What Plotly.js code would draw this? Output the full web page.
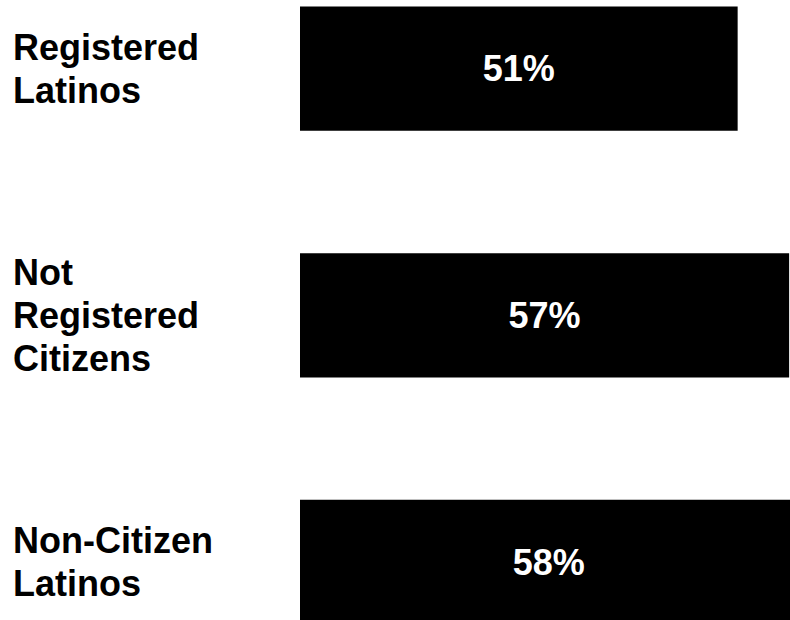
<!DOCTYPE html>
<html>
<head>
<meta charset="utf-8">
<script src="https://cdn.plot.ly/plotly-3.0.1.min.js"></script>
<style>html,body{margin:0;padding:0;background:#fff;}#chart{width:790px;height:620px;}</style>
</head>
<body>
<div id="chart"></div>
<script>
const categories = ['Registered Latinos', 'Not Registered Citizens', 'Non-Citizen Latinos'];
const categoryLabels = ['Registered<br>Latinos', 'Not<br>Registered<br>Citizens', 'Non-Citizen<br>Latinos'];
const values = [51, 57, 58];
const valueLabels = ['51%', '57%', '58%'];

const FONT = '"Liberation Sans", Arial, sans-serif';
const LABEL_SIZE = 36;
const LINE_GAP = 43;

const trace = {
  type: 'bar',
  orientation: 'h',
  y: categories,
  x: values,
  text: valueLabels,
  textposition: 'inside',
  insidetextanchor: 'middle',
  textangle: 0,
  textfont: {family: FONT, size: 36, color: '#ffffff', weight: 'bold'},
  marker: {color: '#000000', line: {width: 0}},
  hoverinfo: 'none'
};

const annotations = [];
categories.forEach((c, i) => {
  const lines = categoryLabels[i].split('<br>');
  const n = lines.length;
  lines.forEach((ln, k) => {
    annotations.push({
      xref: 'paper', yref: 'y',
      x: 0, xshift: -289, xanchor: 'left',
      y: c, yanchor: 'middle',
      yshift: ((n - 1) / 2 - k) * LINE_GAP,
      text: ln,
      align: 'left',
      showarrow: false,
      font: {family: FONT, size: LABEL_SIZE, color: '#000000', weight: 'bold'}
    });
  });
});

const layout = {
  width: 790, height: 620,
  margin: {l: 300, r: 0, t: 0, b: 0, pad: 0},
  paper_bgcolor: '#ffffff', plot_bgcolor: '#ffffff',
  showlegend: false,
  bargap: 0.496,
  xaxis: {range: [0, 57.1], showgrid: false, zeroline: false, showticklabels: false, showline: false, ticks: ''},
  yaxis: {type: 'category', categoryorder: 'array', categoryarray: categories,
          range: [2.235, -0.2785], showgrid: false, zeroline: false, showticklabels: false, showline: false, ticks: ''},
  annotations: annotations
};

Plotly.newPlot('chart', [trace], layout, {displayModeBar: false, staticPlot: true});
</script>
</body>
</html>
